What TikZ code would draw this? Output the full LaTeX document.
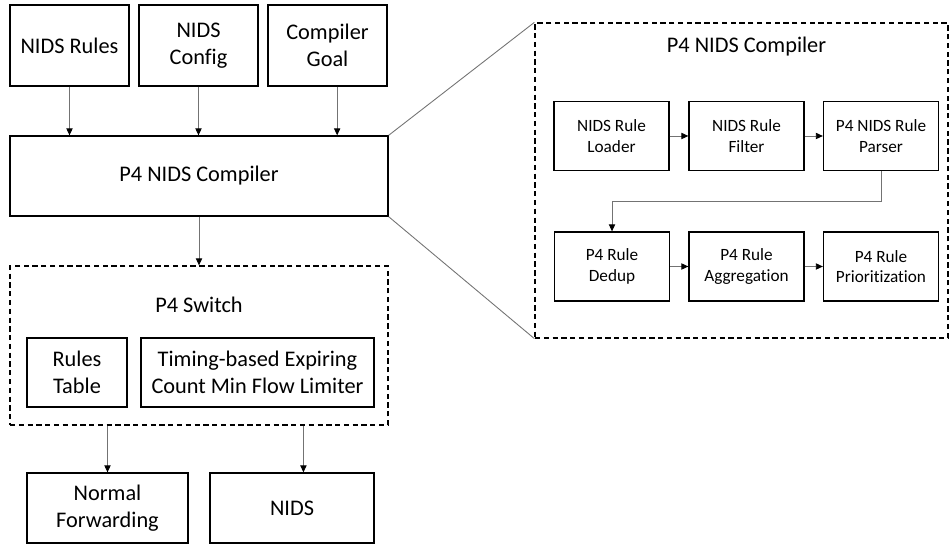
\documentclass[tikz,border=0pt]{standalone}
\usepackage{fontspec}
\setmainfont{Carlito}[Ligatures={NoCommon,NoRare,NoContextual}]
\usetikzlibrary{arrows.meta}

\tikzset{
    box/.style={draw, line width=0.75pt, align=center, inner sep=0pt,
        font=\fontsize{12.7}{15.4}\selectfont},
    smallbox/.style={box, minimum width=2.3cm, minimum height=1.38cm,
        font=\fontsize{9.8}{11.6}\selectfont},
    group/.style={draw, line width=0.75pt, dash pattern=on 3pt off 2pt, inner sep=0pt},
    arr/.style={draw=black!55, line width=0.5pt, -{Triangle[length=4pt,width=3.6pt,color=black]}},
    zoomline/.style={draw=black!55, line width=0.5pt}
}

\begin{document}
\begin{tikzpicture}[x=0.02cm, y=-0.02cm]
        \useasboundingbox (0,0) rectangle (949,546);
        % Inputs
        \node[box, minimum width=2.38cm, minimum height=1.62cm] (rules) at (69.5,45.5) {NIDS Rules};
        \node[box, minimum width=2.38cm, minimum height=1.62cm] (config) at (198.5,45.5) {NIDS\\Config};
        \node[box, minimum width=2.38cm, minimum height=1.62cm] (goal) at (327.5,45.5) {Compiler\\Goal};
        % Compiler
        \node[box, minimum width=7.56cm, minimum height=1.6cm] (compiler) at (199,176) {P4 NIDS Compiler};
        \draw[arr] (rules.south) -- (rules.south |- compiler.north);
        \draw[arr] (config.south) -- (config.south |- compiler.north);
        \draw[arr] ([xshift=5.5]goal.south) -- ([xshift=5.5]goal.south |- compiler.north);
        % P4 Switch
        \node[group, minimum width=7.56cm, minimum height=3.18cm] (switch) at (199,345.5) {};
        \node[font=\fontsize{12.7}{15.4}\selectfont] (switchtitle) at (199,305) {P4 Switch};
        \node[box, minimum width=2cm, minimum height=1.38cm] (table) at (77,372.5) {Rules\\Table};
        \node[box, minimum width=4.66cm, minimum height=1.38cm] (limiter) at (257.5,372.5) {Timing-based Expiring\\Count Min Flow Limiter};
        \draw[arr] (compiler.south) -- (compiler.south |- switch.north);
        % Outputs
        \node[box, minimum width=3.22cm, minimum height=1.4cm] (fwd) at (107.5,508) {Normal\\Forwarding};
        \node[box, minimum width=3.28cm, minimum height=1.4cm] (nids) at (292,508) {NIDS};
        \draw[arr] (fwd.north |- switch.south) -- (fwd.north);
        \draw[arr] ([xshift=6.5]nids.north |- switch.south) -- ([xshift=6.5]nids.north);
        % Compiler detail
        \node[group, minimum width=8.26cm, minimum height=6.3cm] (detail) at (741.5,180.5) {};
        \node[font=\fontsize{12.7}{15.4}\selectfont] (detailtitle) at (746.5,47) {P4 NIDS Compiler};
        \foreach \n/\x/\t in {loader/611.5/NIDS Rule\\Loader, filter/746.5/NIDS Rule\\Filter, parser/881/P4 NIDS Rule\\Parser} {
            \node[smallbox] (\n) at (\x,136) {\t};
        }
        \foreach \n/\x/\t in {dedup/612/P4 Rule\\Dedup, aggr/746.5/P4 Rule\\Aggregation, prio/881/P4 Rule\\Prioritization} {
            \node[smallbox] (\n) at (\x,266.5) {\t};
        }
        \draw[arr] (loader) -- (filter);
        \draw[arr] (filter) -- (parser);
        \draw[arr] (dedup) -- (aggr);
        \draw[arr] (aggr) -- (prio);
        \coordinate (bend) at (881,201);
        \draw[arr] (parser.south) -- (bend) -| (dedup.north);
        % Zoom lines
        \draw[zoomline] (compiler.north east) -- (detail.north west);
        \draw[zoomline] (compiler.south east) -- (detail.south west);
    \end{tikzpicture}
\end{document}
